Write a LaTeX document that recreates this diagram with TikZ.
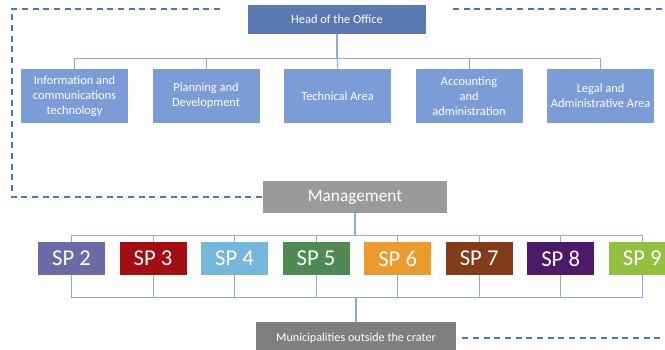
\documentclass[tikz,border=0pt]{standalone}
\usepackage{fontspec}
\setmainfont{Carlito}
\usetikzlibrary{positioning}

\definecolor{headblue}{HTML}{5A78B2}
\definecolor{unitblue}{HTML}{7C9CD8}
\definecolor{lineblue}{HTML}{8EAADB}
\definecolor{dashblue}{HTML}{4A74C4}
\definecolor{mgmtgray}{HTML}{9A9A9A}
\definecolor{munigray}{HTML}{7F7F7F}
\definecolor{sptwo}{HTML}{6A6BA6}
\definecolor{spthree}{HTML}{A30F10}
\definecolor{spfour}{HTML}{74B6DC}
\definecolor{spfive}{HTML}{4F8A55}
\definecolor{spsix}{HTML}{EC9A2B}
\definecolor{spseven}{HTML}{833B1A}
\definecolor{speight}{HTML}{4D1A6A}
\definecolor{spnine}{HTML}{93C03E}

\begin{document}
\begin{tikzpicture}[x=0.75pt, y=-0.75pt,
  every node/.style={inner sep=1pt, text=white, align=center},
  unit/.style={fill=unitblue, minimum width=80.25pt, minimum height=40.5pt, font=\fontsize{9.3}{11.3}\selectfont},
  spbox/.style={minimum width=50.25pt, minimum height=24.75pt, font=\fontsize{17}{19}\selectfont},
  conn/.style={draw=lineblue, line width=0.8pt},
  link/.style={draw=dashblue, line width=1pt, dash pattern=on 4.5pt off 3.5pt}]
\useasboundingbox (0,0) rectangle (665,350);
\node[fill=headblue, minimum width=133.5pt, minimum height=21.75pt, font=\fontsize{9.3}{11}\selectfont] (head) at (337,19.5) {Head of the Office};
\node[unit] (ict) at (74.5,96) {Information and\\communications\\technology};
\node[unit, right=18pt of ict] (plan) {Planning and\\Development};
\node[unit, right=18pt of plan] (tech) {Technical Area};
\node[unit, right=18pt of tech] (acct) {Accounting\\and\\administration};
\node[unit, right=18pt of acct] (legal) {Legal and\\Administrative Area};
\node[fill=mgmtgray, minimum width=138pt, minimum height=24pt, font=\fontsize{13}{15}\selectfont] (mgmt) at (355,197) {Management};
\node[spbox, fill=sptwo] (sp2) at (71.5,258.5) {SP 2};
\node[spbox, fill=spthree, right=10.5pt of sp2] (sp3) {SP 3};
\node[spbox, fill=spfour, right=10.5pt of sp3] (sp4) {SP 4};
\node[spbox, fill=spfive, right=10.5pt of sp4] (sp5) {SP 5};
\node[spbox, fill=spsix, right=10.5pt of sp5] (sp6) {SP 6};
\node[spbox, fill=spseven, right=10.5pt of sp6] (sp7) {SP 7};
\node[spbox, fill=speight, right=10.5pt of sp7] (sp8) {SP 8};
\node[spbox, fill=spnine, right=10.5pt of sp8] (sp9) {SP 9};
\node[fill=munigray, minimum width=150pt, minimum height=24pt, font=\fontsize{9.1}{10}\selectfont] (muni) at (356,338) {Municipalities outside the crater};
% head to areas
\draw[conn] (head.south) -- ++(0,24) -| (ict.north);
\draw[conn] (head.south) -- ++(0,24) -| (plan.north);
\draw[conn] (head.south) -- (tech.north);
\draw[conn] (head.south) -- ++(0,24) -| (acct.north);
\draw[conn] (head.south) -- ++(0,24) -| (legal.north);
% management to sps
\draw[conn] (mgmt.south) -- ++(0,22) -| (sp2.north);
\draw[conn] (mgmt.south) -- ++(0,22) -| (sp3.north);
\draw[conn] (mgmt.south) -- ++(0,22) -| (sp4.north);
\draw[conn] (mgmt.south) -- ++(0,22) -| (sp5.north);
\draw[conn] (mgmt.south) -- ++(0,22) -| (sp6.north);
\draw[conn] (mgmt.south) -- ++(0,22) -| (sp7.north);
\draw[conn] (mgmt.south) -- ++(0,22) -| (sp8.north);
\draw[conn] (mgmt.south) -- ++(0,22) -| (sp9.north);
% sps to municipalities
\draw[conn] (sp2.south) -- ++(0,22) -| (muni.north);
\draw[conn] (sp3.south) -- ++(0,22) -| (muni.north);
\draw[conn] (sp4.south) -- ++(0,22) -| (muni.north);
\draw[conn] (sp5.south) -- ++(0,22) -| (muni.north);
\draw[conn] (sp6.south) -- ++(0,22) -| (muni.north);
\draw[conn] (sp7.south) -- ++(0,22) -| (muni.north);
\draw[conn] (sp8.south) -- ++(0,22) -| (muni.north);
\draw[conn] (sp9.south) -- ++(0,22) -| (muni.north);
% dashed links
\coordinate (topl) at (220,9);
\coordinate (sidel) at (12,197);
\coordinate (topr) at (453,9);
\coordinate (topre) at (665,9);
\coordinate (botre) at (665,338);
\draw[link] (topl) -| (sidel) -- (mgmt.west);
\draw[link] (topr) -- (topre);
\draw[link] ([xshift=4.5pt]muni.east) -- (botre);
\end{tikzpicture}
\end{document}
